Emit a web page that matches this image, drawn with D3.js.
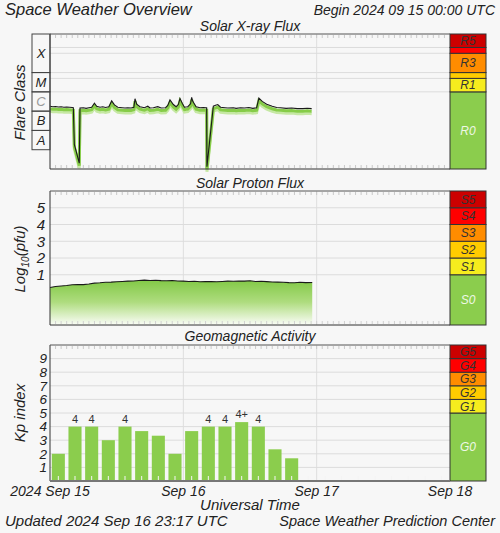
<!DOCTYPE html>
<html><head><meta charset="utf-8">
<script src="https://cdn.jsdelivr.net/npm/d3@7"></script>
<style>
html,body{margin:0;padding:0;background:#f7f7f7;}
svg{display:block;font-family:"Liberation Sans",Arial,sans-serif;}
text{font-style:italic;}
text.up{font-style:normal;}
</style></head>
<body><svg id="c" width="500" height="533"></svg>
<script>
// ---------- DATA ----------
const xrayHours = [0,0.5,1,1.5,2,2.5,3,3.5,4.0,4.2,4.38,5.27,5.4,6,6.5,7,7.5,8.0,8.4,9,9.5,10,10.6,11.1,11.6,12.2,13,13.5,14,14.6,15.1,15.3,15.6,16.2,17,17.6,18,18.6,19.4,20,20.8,21.2,21.6,22.2,22.7,23.1,23.4,23.8,24.2,24.8,25.3,25.5,25.7,26.3,27,27.6,28.1,28.2,28.25,29.4,29.8,30.2,30.7,31.5,32,33,33.5,34.3,35,35.8,36.5,37.2,37.6,38.2,39,40,40.8,41.5,42.5,43.5,44.5,45.5,46.3,47.1];
const xrayFlux = [1.8e-6,1.7e-6,1.75e-6,1.65e-6,1.7e-6,1.6e-6,1.65e-6,1.6e-6,1.55e-6,1.5e-6,1.9e-8,2e-9,1.45e-6,1.5e-6,1.4e-6,1.5e-6,1.6e-6,2.6e-6,1.8e-6,1.6e-6,1.7e-6,1.55e-6,1.7e-6,3.4e-6,2.1e-6,1.6e-6,1.5e-6,1.45e-6,1.5e-6,1.45e-6,1.6e-6,4.4e-6,2.3e-6,1.7e-6,1.5e-6,1.8e-6,1.45e-6,1.5e-6,1.7e-6,1.45e-6,1.5e-6,2.0e-6,3.8e-6,2.2e-6,1.7e-6,2.2e-6,4.5e-6,2.6e-6,1.6e-6,1.7e-6,2.4e-6,5.2e-6,3.2e-6,1.7e-6,1.5e-6,1.55e-6,1.5e-6,1.5e-6,1.3e-9,1.8e-6,2.0e-6,2.2e-6,1.6e-6,1.5e-6,1.45e-6,1.5e-6,1.4e-6,1.5e-6,1.45e-6,1.55e-6,1.4e-6,1.5e-6,4.8e-6,3.2e-6,2.3e-6,1.8e-6,1.55e-6,1.5e-6,1.4e-6,1.45e-6,1.35e-6,1.35e-6,1.4e-6,1.35e-6];

const protonHours = [0,1,2,3,4,5,6,7,8,9,10,11,12,13,14,15,16,17,18,19,20,21,22,23,24,25,26,27,28,29,30,31,32,33,34,35,36,37,38,39,40,41,42,43,44,45,46,47.2];
const protonLog = [0.24,0.30,0.33,0.36,0.40,0.42,0.41,0.45,0.50,0.52,0.55,0.56,0.58,0.60,0.62,0.63,0.66,0.68,0.66,0.67,0.65,0.64,0.66,0.63,0.62,0.60,0.61,0.58,0.60,0.59,0.58,0.60,0.62,0.61,0.63,0.62,0.64,0.60,0.61,0.59,0.57,0.56,0.55,0.53,0.52,0.55,0.53,0.54];

const kpValues = [2,4,4,3,4,3.67,3.33,2,3.67,4,4,4.33,4,2.33,1.67];
const kpLabels = ["2","4","4","3","4","4-","3+","2","4-","4","4","4+","4","2+","2-"];

const flareClasses = ["A","B","C","M","X"];
const protonTicks = [1,2,3,4,5];
const kpTicks = [1,2,3,4,5,6,7,8,9];
const dayTicks = ["2024 Sep 15","Sep 16","Sep 17","Sep 18"];

const rScale = [{n:"R0",lo:1e-9,hi:1e-5,c:"#8bcd4d",t:"#eef8e6"},{n:"R1",lo:1e-5,hi:5e-5,c:"#f6ec1e",t:"#333"},{n:"",lo:5e-5,hi:1e-4,c:"#ffcc00",t:"#333"},{n:"R3",lo:1e-4,hi:1e-3,c:"#ff8c00",t:"#333"},{n:"",lo:1e-3,hi:2e-3,c:"#ff0000",t:"#333"},{n:"R5",lo:2e-3,hi:1e-2,c:"#cc0000",t:"#333"}];
const sScale = [{n:"S0",lo:-2,hi:1,c:"#8bcd4d",t:"#eef8e6"},{n:"S1",lo:1,hi:2,c:"#f6ec1e",t:"#333"},{n:"S2",lo:2,hi:3,c:"#ffcc00",t:"#333"},{n:"S3",lo:3,hi:4,c:"#ff8c00",t:"#333"},{n:"S4",lo:4,hi:5,c:"#ff0000",t:"#333"},{n:"S5",lo:5,hi:6,c:"#cc0000",t:"#333"}];
const gScale = [{n:"G0",lo:0,hi:5,c:"#8bcd4d",t:"#eef8e6"},{n:"G1",lo:5,hi:6,c:"#f6ec1e",t:"#333"},{n:"G2",lo:6,hi:7,c:"#ffcc00",t:"#333"},{n:"G3",lo:7,hi:8,c:"#ff8c00",t:"#333"},{n:"G4",lo:8,hi:9,c:"#ff0000",t:"#333"},{n:"G5",lo:9,hi:10,c:"#cc0000",t:"#333"}];

// ---------- LAYOUT ----------
const svg = d3.select("#c");
const t0 = Date.UTC(2024,8,15);
const H = 3600*1000;
const x = d3.scaleUtc().domain([new Date(t0), new Date(t0+72*H)]).range([50,450]);
const hx = h => x(new Date(t0+h*H));
const SX0 = 450, SX1 = 486;

const P1 = {top:34,bot:169}, P2 = {top:191,bot:325}, P3 = {top:345,bot:481};
const y1 = d3.scaleLog().domain([1e-9,1e-2]).range([P1.bot,P1.top]);
const y2 = d3.scaleLinear().domain([-2,6]).range([P2.bot,P2.top]);
const y3 = d3.scaleLinear().domain([0,10]).range([P3.bot,P3.top]);

const defs = svg.append("defs");
const gr = defs.append("linearGradient").attr("id","pg").attr("gradientUnits","userSpaceOnUse")
  .attr("x1",0).attr("x2",0).attr("y1",279).attr("y2",P2.bot);
gr.append("stop").attr("offset",0).attr("stop-color","#80c844");
gr.append("stop").attr("offset",0.5).attr("stop-color","#aedc7e");
gr.append("stop").attr("offset",1).attr("stop-color","#fbfdf8");

// ---------- HEADERS ----------
svg.append("text").attr("x",5).attr("y",15).attr("font-size",16.5).attr("fill","#222").text("Space Weather Overview");
svg.append("text").attr("x",495).attr("y",15).attr("font-size",14).attr("fill","#222").attr("text-anchor","end").text("Begin 2024 09 15 00:00 UTC");
const titles = [["Solar X-ray Flux",31],["Solar Proton Flux",188],["Geomagnetic Activity",341]];
titles.forEach(([t,yy]) => svg.append("text").attr("x",250).attr("y",yy).attr("font-size",14).attr("fill","#222").attr("text-anchor","middle").text(t));

// ---------- COMMON PANEL DRAW ----------
function panelFrame(P){
  const g = svg.append("g");
  [24,48].forEach(h => g.append("line").attr("x1",hx(h)).attr("x2",hx(h)).attr("y1",P.top).attr("y2",P.bot).attr("stroke","#dedede"));
  d3.range(1,72).forEach(h => g.append("line").attr("x1",hx(h)).attr("x2",hx(h)).attr("y1",P.top+1).attr("y2",P.top+4).attr("stroke","#c8c8c8"));
  return g;
}
function hgrid(vals, sc){
  vals.forEach(v => svg.append("line").attr("x1",50).attr("x2",450).attr("y1",sc(v)).attr("y2",sc(v)).attr("stroke","#dcdcdc"));
}
function scaleBar(defsArr, sc){
  const g = svg.append("g");
  defsArr.forEach(d => {
    const ya = sc(d.hi), yb = sc(d.lo);
    g.append("rect").attr("x",SX0).attr("y",ya).attr("width",SX1-SX0).attr("height",yb-ya).attr("fill",d.c).attr("stroke","#333").attr("stroke-width",1);
    if(d.n) g.append("text").attr("x",(SX0+SX1)/2).attr("y",(ya+yb)/2).attr("dy","0.36em").attr("text-anchor","middle").attr("font-size",12).attr("fill",d.t).text(d.n);
  });
}
function border(P, thickBottom){
  svg.append("line").attr("x1",50).attr("x2",50).attr("y1",P.top).attr("y2",P.bot).attr("stroke","#333");
  svg.append("line").attr("x1",50).attr("x2",SX0).attr("y1",P.top).attr("y2",P.top).attr("stroke","#555");
  svg.append("line").attr("x1",50).attr("x2",SX0).attr("y1",P.bot).attr("y2",P.bot).attr("stroke",thickBottom?"#777":"#333").attr("stroke-width",thickBottom?2:1);
}

// ---------- PANEL 1 : X-RAY ----------
panelFrame(P1);
hgrid([2e-3,1e-3,1e-4,5e-5,1e-5], y1);
d3.range(1,72).forEach(h => svg.append("line").attr("x1",hx(h)).attr("x2",hx(h)).attr("y1",P1.bot-1).attr("y2",P1.bot-4).attr("stroke","#c8c8c8"));
const xrayPts = xrayHours.map((h,i)=>[h,xrayFlux[i]]);
const xl = d3.line().x(d=>hx(d[0])).y(d=>y1(d[1]));
svg.append("path").attr("d",xl(xrayPts)).attr("transform","translate(0,5)").attr("fill","none").attr("stroke","#c6e8a4").attr("stroke-width",3);
svg.append("path").attr("d",xl(xrayPts)).attr("transform","translate(0,2.5)").attr("fill","none").attr("stroke","#86cc48").attr("stroke-width",3);
svg.append("path").attr("d",xl(xrayPts)).attr("fill","none").attr("stroke","#1a1a1a").attr("stroke-width",1.1);
scaleBar(rScale, y1);
border(P1,false);
const fcBounds = [[1e-8,1e-7],[1e-7,1e-6],[1e-6,1e-5],[1e-5,1e-4],[1e-4,1e-2]];
flareClasses.forEach((c,i) => {
  const ya = y1(fcBounds[i][1]), yb = y1(fcBounds[i][0]);
  svg.append("rect").attr("x",32).attr("y",ya).attr("width",18).attr("height",yb-ya).attr("fill","none").attr("stroke","#444");
  svg.append("text").attr("x",41).attr("y",(ya+yb)/2).attr("dy","0.36em").attr("text-anchor","middle").attr("font-size",13).attr("fill",c==="C"?"#999":"#222").text(c);
});
svg.append("text").attr("transform",`translate(25,${(P1.top+P1.bot)/2+1}) rotate(-90)`).attr("text-anchor","middle").attr("font-size",15).attr("fill","#222").text("Flare Class");

// ---------- PANEL 2 : PROTONS ----------
panelFrame(P2);
hgrid(protonTicks, y2);
const protPts = protonHours.map((h,i)=>[h,protonLog[i]]);
svg.append("path").attr("d",d3.area().x(d=>hx(d[0])).y0(P2.bot).y1(d=>y2(d[1]))(protPts)).attr("fill","url(#pg)");
svg.append("path").attr("d",d3.line().x(d=>hx(d[0])).y(d=>y2(d[1]))(protPts)).attr("fill","none").attr("stroke","#1a1a1a").attr("stroke-width",1.1);
d3.range(1,72).forEach(h => svg.append("line").attr("x1",hx(h)).attr("x2",hx(h)).attr("y1",P2.bot-1).attr("y2",P2.bot-4).attr("stroke","#d0d0d0"));
protonTicks.forEach(v => svg.append("text").attr("x",45).attr("y",y2(v)).attr("dy","0.36em").attr("text-anchor","end").attr("font-size",15).attr("fill","#222").text(v));
scaleBar(sScale, y2);
border(P2,false);
const ylab = svg.append("text").attr("transform",`translate(25,${(P2.top+P2.bot)/2+1}) rotate(-90)`).attr("text-anchor","middle").attr("font-size",15).attr("fill","#222");
ylab.append("tspan").text("Log");
ylab.append("tspan").attr("font-size",10).attr("dy",4).text("10");
ylab.append("tspan").attr("dy",-4).text("(pfu)");

// ---------- PANEL 3 : KP ----------
panelFrame(P3);
hgrid(kpTicks, y3);
kpValues.forEach((v,i) => {
  const xa = hx(i*3)+1.8, w = hx(3)-hx(0)-3.6;
  svg.append("rect").attr("x",xa).attr("y",y3(v)).attr("width",w).attr("height",y3(0)-y3(v)).attr("fill","#8bcd4d");
  if(v>=4) svg.append("text").attr("class","up").attr("x",xa+w/2).attr("y",y3(v)-4).attr("text-anchor","middle").attr("font-size",11).attr("fill","#333").text(kpLabels[i]);
});
d3.range(0,24).forEach(k => svg.append("line").attr("x1",hx(k*3+1.5)).attr("x2",hx(k*3+1.5)).attr("y1",P3.bot-1).attr("y2",P3.bot-5).attr("stroke","#f4f4f4"));
kpTicks.forEach(v => svg.append("text").attr("x",47).attr("y",y3(v)).attr("dy","0.36em").attr("text-anchor","end").attr("font-size",13.5).attr("fill","#222").text(v));
scaleBar(gScale, y3);
border(P3,true);
svg.append("text").attr("transform",`translate(25,${(P3.top+P3.bot)/2}) rotate(-90)`).attr("text-anchor","middle").attr("font-size",15).attr("fill","#222").text("Kp index");

// ---------- X AXIS / FOOTER ----------
dayTicks.forEach((t,i) => svg.append("text").attr("x",hx(i*24)).attr("y",496).attr("text-anchor","middle").attr("font-size",14).attr("fill","#222").text(t));
svg.append("text").attr("x",250).attr("y",510).attr("text-anchor","middle").attr("font-size",15).attr("fill","#222").text("Universal Time");
svg.append("text").attr("x",5).attr("y",526).attr("font-size",15).attr("fill","#222").text("Updated 2024 Sep 16 23:17 UTC");
svg.append("text").attr("x",495).attr("y",526).attr("text-anchor","end").attr("font-size",14.5).attr("fill","#222").text("Space Weather Prediction Center");
</script></body></html>
